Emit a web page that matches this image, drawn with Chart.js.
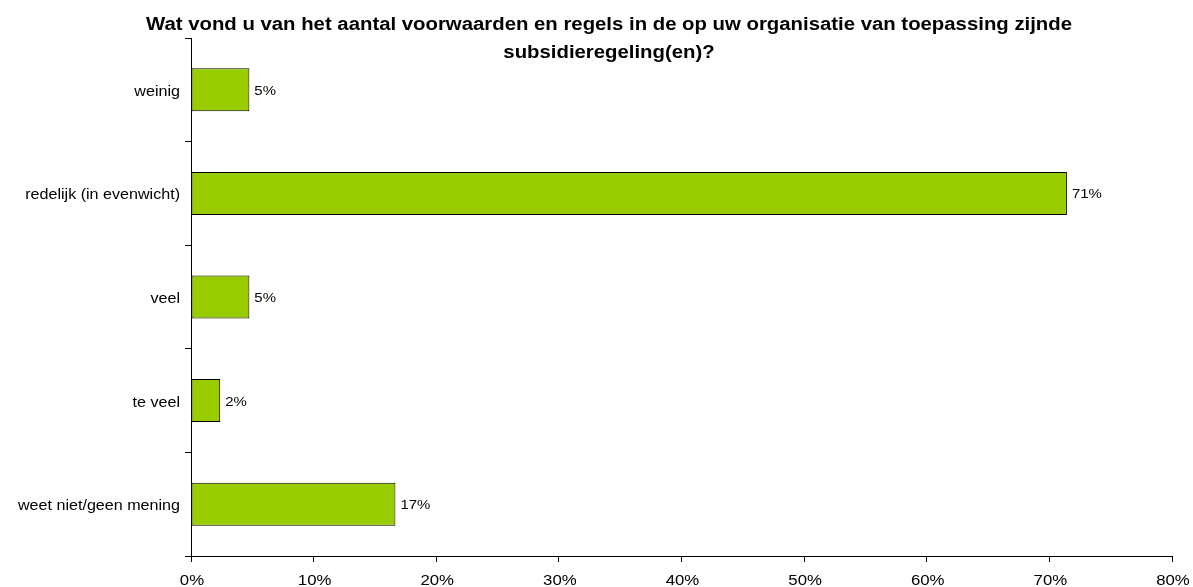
<!DOCTYPE html>
<html>
<head>
<meta charset="utf-8">
<script src="https://cdn.jsdelivr.net/npm/chart.js@4/dist/chart.umd.min.js"></script>
<style>
    html, body { margin: 0; padding: 0; background: #fff; }
    #wrap { width: 1193px; height: 587px; position: relative; }
</style>
</head>
<body>
<div id="wrap"><canvas id="barchart"></canvas></div>
<script>
const titleLines = [
    'Wat vond u van het aantal voorwaarden en regels in de op uw organisatie van toepassing zijnde',
    'subsidieregeling(en)?'
];
const categories = ['weinig', 'redelijk (in evenwicht)', 'veel', 'te veel', 'weet niet/geen mening'];
const percentages = [4.76, 71.43, 4.76, 2.38, 16.67];
const xTicks = [0, 10, 20, 30, 40, 50, 60, 70, 80];

const FONT = "'Liberation Sans', Arial, sans-serif";

// the original text is a bit wider than Liberation Sans, so stretch it sideways
function drawText(ctx, text, x, y, align, font, stretch) {
    ctx.save();
    ctx.font = font;
    ctx.fillStyle = '#000';
    ctx.textBaseline = 'alphabetic';
    const w = ctx.measureText(text).width * stretch;
    let left = x;
    if (align === 'center') left = x - w / 2;
    if (align === 'right') left = x - w;
    ctx.translate(left, y);
    ctx.scale(stretch, 1);
    ctx.textAlign = 'left';
    ctx.fillText(text, 0, 0);
    ctx.restore();
}

const textPlugin = {
    id: 'allText',
    afterDraw(chart) {
        const ctx = chart.ctx;
        const xs = chart.scales.x;
        const ys = chart.scales.y;

        drawText(ctx, titleLines[0], 609, 30, 'center', 'bold 18px ' + FONT, 1.13);
        drawText(ctx, titleLines[1], 609, 58, 'center', 'bold 18px ' + FONT, 1.13);

        xTicks.forEach(v => {
            drawText(ctx, v + '%', xs.getPixelForValue(v) + 1, 585, 'center', '14px ' + FONT, 1.2);
        });

        categories.forEach((c, i) => {
            drawText(ctx, c, 180, ys.getPixelForValue(i) + 6, 'right', '14px ' + FONT, 1.15);
        });

        chart.getDatasetMeta(0).data.forEach((bar, i) => {
            drawText(ctx, Math.round(percentages[i]) + '%', bar.x + 5, bar.y + 5, 'left', '13px ' + FONT, 1.15);
        });
    }
};

const ctx = document.getElementById('barchart').getContext('2d');
new Chart(ctx, {
    type: 'bar',
    data: {
        labels: categories,
        datasets: [{
            data: percentages,
            backgroundColor: '#99CC00',
            borderColor: '#000',
            borderWidth: 1,
            borderSkipped: false,
            barPercentage: 0.415,
            categoryPercentage: 1
        }]
    },
    options: {
        indexAxis: 'y',
        responsive: true,
        maintainAspectRatio: false,
        animation: false,
        layout: { padding: { top: 38, right: 21, left: 0, bottom: 0 } },
        plugins: {
            legend: { display: false },
            tooltip: { enabled: false }
        },
        scales: {
            x: {
                min: 0,
                max: 80,
                afterBuildTicks: scale => {
                    scale.ticks = xTicks.map(v => ({ value: v }));
                },
                afterFit: scale => { scale.height = 31; },
                border: { color: '#000', width: 1 },
                grid: { drawOnChartArea: false, tickLength: 6, color: '#000' },
                ticks: { display: false }
            },
            y: {
                offset: true,
                afterFit: scale => { scale.width = 191; },
                border: { color: '#000', width: 1 },
                grid: { offset: true, drawOnChartArea: false, tickLength: 6, color: '#000' },
                ticks: { display: false }
            }
        }
    },
    plugins: [textPlugin]
});
</script>
</body>
</html>
